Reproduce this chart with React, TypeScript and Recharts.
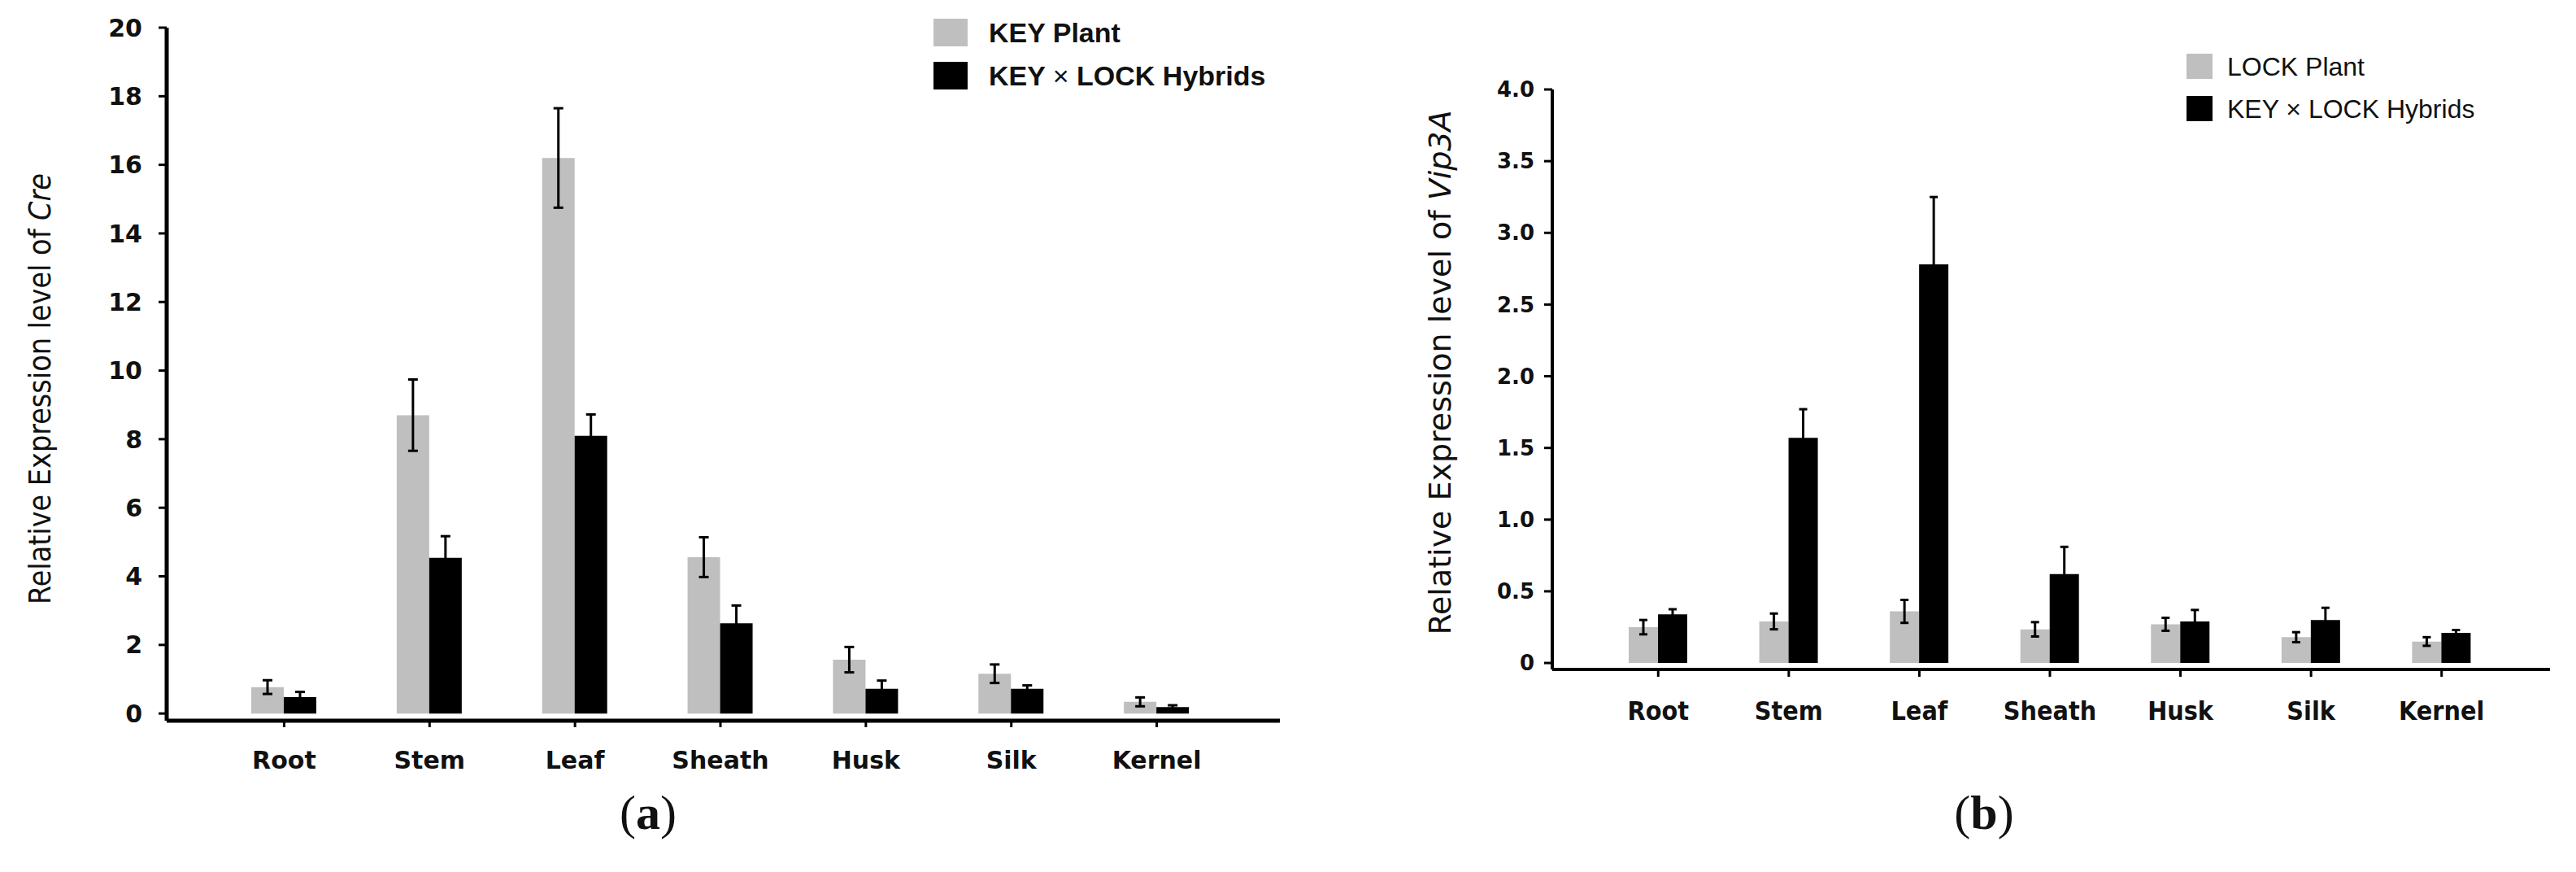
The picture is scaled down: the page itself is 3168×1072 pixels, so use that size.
import { Bar, BarChart, ErrorBar, Label, Legend, XAxis, YAxis } from "recharts";

const TISSUES = ["Root", "Stem", "Leaf", "Sheath", "Husk", "Silk", "Kernel"];

// (a) Cre
const CRE_KEY = [0.77, 8.7, 16.2, 4.56, 1.57, 1.16, 0.34];
const CRE_KEY_ERR = [0.2, 1.04, 1.45, 0.58, 0.37, 0.27, 0.13];
const CRE_HYBRID = [0.48, 4.54, 8.1, 2.63, 0.72, 0.72, 0.19];
const CRE_HYBRID_ERR = [0.15, 0.63, 0.62, 0.52, 0.24, 0.1, 0.05];
const CRE_TICKS = [0, 2, 4, 6, 8, 10, 12, 14, 16, 18, 20];

// (b) Vip3A
const VIP_LOCK = [0.25, 0.29, 0.36, 0.235, 0.27, 0.18, 0.15];
const VIP_LOCK_ERR = [0.05, 0.055, 0.08, 0.05, 0.045, 0.035, 0.03];
const VIP_HYBRID = [0.34, 1.57, 2.78, 0.62, 0.29, 0.3, 0.21];
const VIP_HYBRID_ERR = [0.035, 0.2, 0.47, 0.19, 0.08, 0.085, 0.02];
const VIP_TICKS = [0, 0.5, 1, 1.5, 2, 2.5, 3, 3.5, 4];

const SERIES_ORDER = ["plant", "hybrid"];

const creData = TISSUES.map((tissue, i) => ({
  tissue,
  plant: CRE_KEY[i],
  plantErr: CRE_KEY_ERR[i],
  hybrid: CRE_HYBRID[i],
  hybridErr: CRE_HYBRID_ERR[i],
}));

const vipData = TISSUES.map((tissue, i) => ({
  tissue,
  plant: VIP_LOCK[i],
  plantErr: VIP_LOCK_ERR[i],
  hybrid: VIP_HYBRID[i],
  hybridErr: VIP_HYBRID_ERR[i],
}));

const GREY = "#bfbfbf";
const BLACK = "#000000";
const SANS = "'Liberation Sans', Arial, sans-serif";
const WIDE = "'DejaVu Sans', Verdana, sans-serif";
const NARROW = "'DejaVu Sans Condensed', 'DejaVu Sans', sans-serif";

function withTimes(label: string) {
  const parts = String(label).split("×");
  if (parts.length < 2) return label;
  return (
    <>
      {parts[0]}
      <tspan fontWeight={400}>×</tspan>
      {parts[1]}
    </>
  );
}

function makeLegend(opts: {
  box: number;
  boxH: number;
  row: number;
  textX: number;
  base: number;
  size: number;
  weight: number;
}) {
  return (props: any) => {
    const payload = [...(props.payload || [])].sort(
      (a: any, b: any) =>
        SERIES_ORDER.indexOf(a.dataKey) - SERIES_ORDER.indexOf(b.dataKey)
    );
    return (
      <svg
        width={560}
        height={150}
        style={{ display: "block", overflow: "visible" }}
      >
        {payload.map((p: any, i: number) => (
          <g key={i}>
            <rect
              x={0}
              y={i * opts.row}
              width={opts.box}
              height={opts.boxH}
              fill={p.color}
            />
            <text
              x={opts.textX}
              y={i * opts.row + opts.base}
              fontFamily={SANS}
              fontSize={opts.size}
              fontWeight={opts.weight}
              fill="#111"
            >
              {withTimes(p.value)}
            </text>
          </g>
        ))}
      </svg>
    );
  };
}

function yTitle(cx: number, cy: number, len: number, gene: string) {
  return () => (
    <text
      x={cx}
      y={cy}
      transform={`rotate(-90, ${cx}, ${cy})`}
      textAnchor="middle"
      dominantBaseline="central"
      fontFamily={NARROW}
      fontSize={38}
      fill="#111"
      textLength={len}
      lengthAdjust="spacingAndGlyphs"
    >
      Relative Expression level of <tspan fontStyle="italic">{gene}</tspan>
    </text>
  );
}

function CreChart() {
  return (
    <BarChart
      width={1600}
      height={1072}
      data={creData}
      barSize={40}
      barGap={0}
      margin={{ top: 34, right: 26, left: 55, bottom: 126 }}
    >
      <XAxis
        dataKey="tissue"
        height={60}
        padding={{ left: 55, right: 62 }}
        axisLine={{ stroke: BLACK, strokeWidth: 5 }}
        tickLine={{ stroke: BLACK, strokeWidth: 3 }}
        tickSize={8}
        tickMargin={30}
        tick={{ fontFamily: WIDE, fontSize: 30, fontWeight: 700, fill: "#111" }}
        interval={0}
      />
      <YAxis
        type="number"
        width={150}
        domain={[-0.21, 20]}
        ticks={CRE_TICKS}
        interval={0}
        axisLine={{ stroke: BLACK, strokeWidth: 5 }}
        tickLine={{ stroke: BLACK, strokeWidth: 3 }}
        tickSize={10}
        tickMargin={20}
        tick={{ fontFamily: WIDE, fontSize: 30, fontWeight: 700, fill: "#111" }}
      >
        <Label content={yTitle(49, 478, 530, "Cre")} />
      </YAxis>
      <Legend
        layout="vertical"
        align="center"
        verticalAlign="middle"
        wrapperStyle={{ left: 1148, top: 23, width: 560, height: 150 }}
        content={makeLegend({
          box: 42,
          boxH: 34,
          row: 53,
          textX: 68,
          base: 29,
          size: 34,
          weight: 700,
        })}
      />
      <Bar dataKey="plant" name="KEY Plant" fill={GREY} isAnimationActive={false}>
        <ErrorBar
          dataKey="plantErr"
          direction="y"
          width={6}
          stroke={BLACK}
          strokeWidth={3}
          isAnimationActive={false}
        />
      </Bar>
      <Bar
        dataKey="hybrid"
        name="KEY × LOCK Hybrids"
        fill={BLACK}
        isAnimationActive={false}
      >
        <ErrorBar
          dataKey="hybridErr"
          direction="y"
          width={6}
          stroke={BLACK}
          strokeWidth={3}
          isAnimationActive={false}
        />
      </Bar>
    </BarChart>
  );
}

function VipChart() {
  return (
    <BarChart
      width={1468}
      height={1072}
      data={vipData}
      barSize={36}
      barGap={0}
      margin={{ top: 110, right: 32, left: 59, bottom: 189 }}
    >
      <XAxis
        dataKey="tissue"
        height={60}
        padding={{ left: 50, right: 53 }}
        axisLine={{ stroke: BLACK, strokeWidth: 4 }}
        tickLine={{ stroke: BLACK, strokeWidth: 3 }}
        tickSize={9}
        tickMargin={30}
        tick={{ fontFamily: NARROW, fontSize: 32, fontWeight: 700, fill: "#111" }}
        interval={0}
      />
      <YAxis
        type="number"
        width={150}
        domain={[-0.045, 4]}
        ticks={VIP_TICKS}
        interval={0}
        tickFormatter={(v: number) => (v === 0 ? "0" : v.toFixed(1))}
        axisLine={{ stroke: BLACK, strokeWidth: 4 }}
        tickLine={{ stroke: BLACK, strokeWidth: 3 }}
        tickSize={10}
        tickMargin={12}
        tick={{ fontFamily: WIDE, fontSize: 26, fontWeight: 700, fill: "#111" }}
      >
        <Label content={yTitle(71, 458, 645, "Vip3A")} />
      </YAxis>
      <Legend
        layout="vertical"
        align="center"
        verticalAlign="middle"
        wrapperStyle={{ left: 989, top: 66, width: 560, height: 150 }}
        content={makeLegend({
          box: 32,
          boxH: 31,
          row: 52,
          textX: 50,
          base: 27,
          size: 32,
          weight: 400,
        })}
      />
      <Bar dataKey="plant" name="LOCK Plant" fill={GREY} isAnimationActive={false}>
        <ErrorBar
          dataKey="plantErr"
          direction="y"
          width={5}
          stroke={BLACK}
          strokeWidth={3}
          isAnimationActive={false}
        />
      </Bar>
      <Bar
        dataKey="hybrid"
        name="KEY × LOCK Hybrids"
        fill={BLACK}
        isAnimationActive={false}
      >
        <ErrorBar
          dataKey="hybridErr"
          direction="y"
          width={5}
          stroke={BLACK}
          strokeWidth={3}
          isAnimationActive={false}
        />
      </Bar>
    </BarChart>
  );
}

const captionStyle: React.CSSProperties = {
  position: "absolute",
  top: 964,
  width: 200,
  textAlign: "center",
  fontFamily: "'Liberation Serif', 'DejaVu Serif', serif",
  fontSize: 60,
  lineHeight: "70px",
  color: "#111",
};

export default function App() {
  return (
    <div
      style={{
        position: "absolute",
        left: 0,
        top: 0,
        width: 3168,
        height: 1072,
        background: "#fff",
        overflow: "hidden",
      }}
    >
      <div style={{ position: "absolute", left: 0, top: 0 }}>
        <CreChart />
      </div>
      <div style={{ position: "absolute", left: 1700, top: 0 }}>
        <VipChart />
      </div>
      <div style={{ ...captionStyle, left: 697 }}>
        (<b>a</b>)
      </div>
      <div style={{ ...captionStyle, left: 2340 }}>
        (<b>b</b>)
      </div>
    </div>
  );
}
